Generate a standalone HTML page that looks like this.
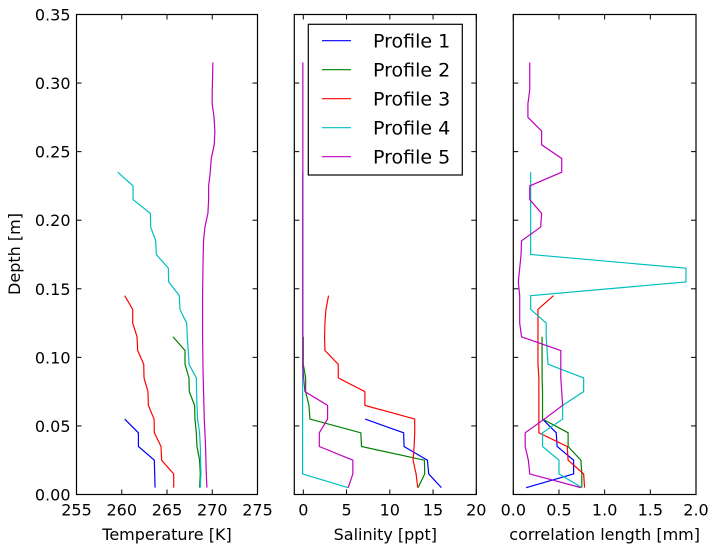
<!DOCTYPE html>
<html><head><meta charset="utf-8"><style>
body{margin:0;background:#fff;}
svg{display:block;font-family:"DejaVu Sans","Liberation Sans",sans-serif;}
</style></head><body>
<svg id="chart" width="713" height="550"></svg>
<script>
function dep(n){const a=[];for(let i=0;i<n;i++)a.push(+(0.005+0.01*i).toFixed(3));return a;}
const profileNames=["Profile 1","Profile 2","Profile 3","Profile 4","Profile 5"];
const colors=["#0000ff","#008000","#ff0000","#00bfbf","#bf00bf"];
const tempP1=[263.68,263.64,263.6,261.84,261.84,260.33];
const tempP2=[268.6,268.68,268.6,268.31,268.24,268.09,268.05,267.46,267.43,266.99,266.99,265.66];
const tempP3=[265.74,265.74,264.41,264.34,263.6,263.57,262.94,262.9,262.46,262.43,261.76,261.69,261.21,261.21,260.33];
const tempP4=[268.68,268.75,268.71,268.68,268.6,268.38,268.31,268.27,268.24,267.43,267.35,267.24,267.17,266.43,266.36,265.18,265.15,263.82,263.75,263.2,263.16,261.25,261.25,259.56];
const tempP5=[269.41,269.34,269.3,269.26,269.19,269.12,269.08,269.04,269.0,268.97,268.95,268.93,268.93,268.93,268.93,268.95,268.97,269.0,269.04,269.19,269.52,269.6,269.6,269.78,269.89,270.22,270.29,270.2,269.99,270.0,270.04,270.07];
const salP1=[15.96,14.5,14.35,11.65,11.6,7.15];
const salP2=[13.27,14.04,14.0,6.73,6.65,0.77,0.65,0.27,0.27,0,0,0];
const salP3=[13.23,13.04,12.69,12.81,12.88,12.88,7.12,7.12,4.04,4.04,2.5,2.46,2.5,2.62,2.92];
const salP4=[5.19,-0.08,-0.08,-0.08,-0.08,-0.08,-0.08,-0.08,-0.08,-0.08,-0.08,-0.08,-0.08,-0.08,-0.08,-0.08,-0.08,-0.08,-0.08,-0.08,-0.08,-0.08,-0.08,-0.08];
const salP5=[5.19,5.73,5.73,1.85,1.85,2.81,2.81,0.19,0.04,-0.05,-0.05,-0.05,-0.05,-0.05,-0.05,-0.05,-0.05,-0.05,-0.05,-0.05,-0.05,-0.05,-0.05,-0.05,-0.05,-0.05,-0.05,-0.05,-0.05,-0.05,-0.05,-0.05];
const corP1=[0.14,0.66,0.66,0.48,0.47,0.32];
const corP2=[0.75,0.75,0.74,0.6,0.6,0.32,0.32,0.32,0.315,0.315,0.315,0.315];
const corP3=[0.78,0.77,0.6,0.59,0.28,0.28,0.28,0.28,0.28,0.27,0.27,0.27,0.27,0.27,0.44];
const corP4=[0.75,0.5,0.5,0.32,0.32,0.54,0.54,0.77,0.77,0.38,0.37,0.36,0.36,0.19,0.19,1.89,1.89,0.19,0.19,0.19,0.19,0.19,0.19,0.19];
const corP5=[0.74,0.18,0.165,0.13,0.13,0.34,0.54,0.53,0.52,0.52,0.52,0.09,0.07,0.07,0.07,0.055,0.07,0.085,0.09,0.3,0.31,0.18,0.18,0.53,0.53,0.31,0.31,0.16,0.16,0.18,0.18,0.18];
const depthTicks=[0,0.05,0.1,0.15,0.2,0.25,0.3,0.35];
const depthTickLabels=["0.00","0.05","0.10","0.15","0.20","0.25","0.30","0.35"];
const tempTicks=[255,260,265,270,275];
const salTicks=[0,5,10,15,20];
const corTicks=[0,0.5,1,1.5,2];
const corTickLabels=["0.0","0.5","1.0","1.5","2.0"];

const NS="http://www.w3.org/2000/svg";
const svg=document.getElementById('chart');
function el(t,a,p){const e=document.createElementNS(NS,t);for(const k in a)e.setAttribute(k,a[k]);(p||svg).appendChild(e);return e;}
const yTop=14.5,yBot=494.5;
const y=d=>yBot-(d/0.35)*(yBot-yTop);
const panels=[
 {name:"temperature",l:76.5,r:257.5,min:255,max:275,ticks:tempTicks,labels:tempTicks.map(String),title:"Temperature [K]",data:[tempP1,tempP2,tempP3,tempP4,tempP5],ylab:true},
 {name:"salinity",l:294.3,r:476.3,min:-1.04,max:20,ticks:salTicks,labels:salTicks.map(String),title:"Salinity [ppt]",data:[salP1,salP2,salP3,salP4,salP5]},
 {name:"correlation",l:513.3,r:696,min:0,max:2,ticks:corTicks,labels:corTickLabels,title:"correlation length [mm]",data:[corP1,corP2,corP3,corP4,corP5]}
];
panels.forEach(p=>{
 const g=el('g',{});
 
 
 const x=v=>p.l+(v-p.min)/(p.max-p.min)*(p.r-p.l);
 p.data.forEach((arr,i)=>{
  const ds=dep(arr.length);
  const pts=arr.map((v,j)=>x(v).toFixed(2)+','+y(ds[j]).toFixed(2)).join(' ');
  const pl=el('polyline',{points:pts,fill:'none',stroke:colors[i],'stroke-width':1.2},g);
  
  
 });
 const fr=el('rect',{x:p.l,y:yTop,width:p.r-p.l,height:yBot-yTop,fill:'none',stroke:'#000','stroke-width':1.2},g);
 
 
 p.ticks.forEach((t,k)=>{
  const xx=x(t);
  el('line',{x1:xx,x2:xx,y1:yBot,y2:yBot-5,stroke:'#000'},g);
  el('line',{x1:xx,x2:xx,y1:yTop,y2:yTop+5,stroke:'#000'},g);
  const tx=el('text',{x:xx,y:yBot+21,'text-anchor':'middle','font-size':16},g);
  tx.textContent=p.labels[k];
  
  
 });
 depthTicks.forEach((d,k)=>{
  el('line',{x1:p.l,x2:p.l+5,y1:y(d),y2:y(d),stroke:'#000'},g);
  el('line',{x1:p.r,x2:p.r-5,y1:y(d),y2:y(d),stroke:'#000'},g);
  if(p.ylab){
   const tx=el('text',{x:p.l-6,y:y(d)+6,'text-anchor':'end','font-size':16},g);
   tx.textContent=depthTickLabels[k];
   
   
  }
 });
 const tt=el('text',{x:(p.l+p.r)/2,y:540,'text-anchor':'middle','font-size':16},g);
 tt.textContent=p.title;
 
 
});
const yt=el('text',{x:20,y:254,'text-anchor':'middle','font-size':16,transform:'rotate(-90 20 254)'});
yt.textContent="Depth [m]";


const lg=el('g',{});


el('rect',{x:308.3,y:24.3,width:154,height:150.7,fill:'#fff',stroke:'#000','stroke-width':1.2},lg);
profileNames.forEach((n,i)=>{
 const yy=40.7+29*i;
 const ln=el('line',{x1:322,x2:351,y1:yy,y2:yy,stroke:colors[i],'stroke-width':1.2},lg);
 
 
 const t=el('text',{x:373,y:yy+7,'font-size':19},lg);
 t.textContent=n;
 
 
});
</script>
</body></html>
